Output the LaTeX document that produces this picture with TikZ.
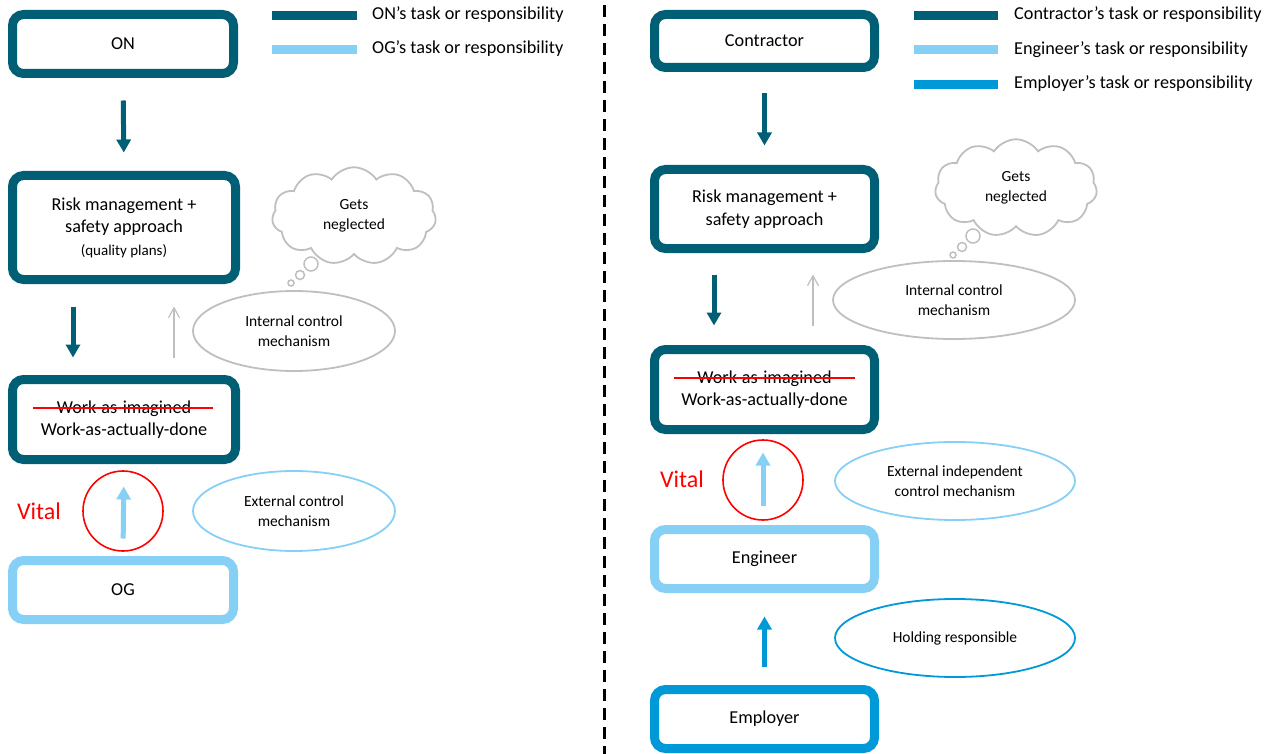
\documentclass[tikz,border=0pt]{standalone}
\usepackage{fontspec}
\setmainfont{Carlito}
\usetikzlibrary{arrows.meta,shapes.geometric,shapes.symbols}
\definecolor{teal}{HTML}{005E75}
\definecolor{sky}{HTML}{87D0F5}
\definecolor{blu}{HTML}{0099D8}
\definecolor{lgray}{HTML}{BFBFBF}
\definecolor{vred}{HTML}{FF0000}
\begin{document}
\begin{tikzpicture}[x=1pt,y=-1pt,
  box/.style={draw,line width=9pt,rounded corners=11pt,fill=white,align=center,
    font=\fontsize{18.2}{22.5}\selectfont,inner sep=0pt},
  darkbox/.style={box,draw=teal},
  skybox/.style={box,draw=sky},
  blubox/.style={box,draw=blu},
  oval/.style={ellipse,draw,line width=1.8pt,align=center,inner sep=0pt,
    font=\fontsize{15.5}{20}\selectfont},
  thought/.style={cloud,cloud puffs=11,cloud puff arc=115,draw=lgray,line width=1.8pt,
    align=center,inner sep=0pt,font=\fontsize{15.5}{20}\selectfont},
  bubble/.style={circle,draw=lgray,line width=1.5pt,inner sep=0pt},
  darr/.style={line width=5pt,draw=teal,-{Triangle[width=14pt,length=13pt]}},
  skyarr/.style={line width=5pt,draw=sky,-{Triangle[width=14pt,length=13pt]}},
  bluarr/.style={line width=5pt,draw=blu,-{Triangle[width=14pt,length=13pt]}},
  grayarr/.style={line width=1.2pt,draw=lgray,-{Straight Barb[width=11pt,length=10pt]}},
  vring/.style={circle,draw=vred,line width=1.6pt,minimum size=80pt,inner sep=0pt},
  vital/.style={text=vred,font=\fontsize{24}{28}\selectfont},
  legbar/.style={line width=9pt},
  legtext/.style={anchor=west,font=\fontsize{18.2}{20}\selectfont,inner sep=0pt},
  strike/.style={draw=vred,line width=1.3pt}
]
\useasboundingbox (0,0) rectangle (1266,754);

% ---------- left half ----------
\node[darkbox,minimum width=221pt,minimum height=59pt] (ON) at (123,44) {ON};
\node[darkbox,minimum width=223pt,minimum height=104pt] (RiskL) at (124,227.5)
  {Risk management +\\ safety approach\\ {\fontsize{15}{16}\selectfont (quality plans)}};
\node[darkbox,minimum width=223pt,minimum height=80pt] (WorkL) at (124,419.5)
  {Work-as-imagined\\ Work-as-actually-done};
\draw[strike] (33,408) -- (213,408);
\node[skybox,minimum width=221pt,minimum height=59pt] (OG) at (123,590) {OG};

\draw[darr,shorten <=22.5pt,shorten >=18.5pt] (ON.south) -- (RiskL.north);
\draw[darr,shorten <=22.5pt,shorten >=17.5pt] ([xshift=-51pt]RiskL.south) -- ([xshift=-51pt]WorkL.north);
\draw[grayarr,shorten <=17.5pt,shorten >=22.5pt] ([xshift=50pt]WorkL.north) -- ([xshift=50pt]RiskL.south);
\node[vring] (RingL) at (123,511) {};
\draw[skyarr,shorten <=17.5pt,shorten >=22.5pt] (OG.north) -- (WorkL.south);
\node[vital] (VitalL) at (39,511) {Vital};

\node[thought,minimum width=164pt,minimum height=88pt] (CloudL) at (354,216) {Gets\\ neglected};
\node[bubble,minimum size=14pt] (bL1) at (311,264) {};
\node[bubble,minimum size=9pt] (bL2) at (300,275) {};
\node[bubble,minimum size=6pt] (bL3) at (291,283) {};

\node[oval,draw=lgray,minimum width=202pt,minimum height=80pt] (IntL) at (294,331)
  {Internal control\\ mechanism};
\node[oval,draw=sky,minimum width=202pt,minimum height=80pt] (ExtL) at (294,511)
  {External control\\ mechanism};

% left legend
\draw[legbar,teal] (272,16) coordinate (lgA) -- (357,16) coordinate (lgB);
\node[legtext] (lgT1) at (372,15) {ON’s task or responsibility};
\draw[legbar,sky] (272,50) coordinate (lgC) -- (357,50) coordinate (lgD);
\node[legtext] (lgT2) at (372,49) {OG’s task or responsibility};

% divider
\draw[line width=3pt,dash pattern=on 12pt off 7pt] (604,5) coordinate (divT) -- (604,754) coordinate (divB);

% ---------- right half ----------
\node[darkbox,minimum width=220pt,minimum height=53pt] (Con) at (764.5,41) {Contractor};
\node[darkbox,minimum width=220pt,minimum height=79pt] (RiskR) at (764.5,209)
  {Risk management +\\ safety approach};
\node[darkbox,minimum width=220pt,minimum height=80pt] (WorkR) at (764.5,389.5)
  {Work-as-imagined\\ Work-as-actually-done};
\draw[strike] (674,378) -- (855,378);
\node[skybox,minimum width=220pt,minimum height=59pt] (Eng) at (764.5,559) {Engineer};
\node[blubox,minimum width=220pt,minimum height=59pt] (Emp) at (764.5,719) {Employer};

\draw[darr,shorten <=21.5pt,shorten >=19.5pt] (Con.south) -- (RiskR.north);
\draw[darr,shorten <=21.5pt,shorten >=19.5pt] ([xshift=-50.5pt]RiskR.south) -- ([xshift=-50.5pt]WorkR.north);
\draw[grayarr,shorten <=19.5pt,shorten >=21.5pt] ([xshift=48.5pt]WorkR.north) -- ([xshift=48.5pt]RiskR.south);
\node[vring] (RingR) at (763,480) {};
\draw[skyarr,shorten <=19.5pt,shorten >=18.5pt] ([xshift=-1.5pt]Eng.north) -- ([xshift=-1.5pt]WorkR.south);
\draw[bluarr,shorten <=18.5pt,shorten >=23.5pt] (Emp.north) -- (Eng.south);
\node[vital] (VitalR) at (682,479) {Vital};

\node[thought,minimum width=162pt,minimum height=88pt] (CloudR) at (1016,188) {Gets\\ neglected};
\node[bubble,minimum size=14pt] (bR1) at (973,236) {};
\node[bubble,minimum size=9pt] (bR2) at (962,247) {};
\node[bubble,minimum size=6pt] (bR3) at (953,255) {};

\node[oval,draw=lgray,minimum width=242pt,minimum height=78pt] (IntR) at (954,300)
  {Internal control\\ mechanism};
\node[oval,draw=sky,minimum width=240pt,minimum height=78pt] (ExtR) at (955,481)
  {External independent\\ control mechanism};
\node[oval,draw=blu,minimum width=240pt,minimum height=78pt] (Hold) at (955,638)
  {Holding responsible};

% right legend
\draw[legbar,teal] (914,16) coordinate (rgA) -- (998,16) coordinate (rgB);
\node[legtext] (rgT1) at (1014,15) {Contractor’s task or responsibility};
\draw[legbar,sky] (914,50) coordinate (rgC) -- (998,50) coordinate (rgD);
\node[legtext] (rgT2) at (1014,50) {Engineer’s task or responsibility};
\draw[legbar,blu] (914,85) coordinate (rgE) -- (998,85) coordinate (rgF);
\node[legtext] (rgT3) at (1014,84) {Employer’s task or responsibility};
\end{tikzpicture}
\end{document}
